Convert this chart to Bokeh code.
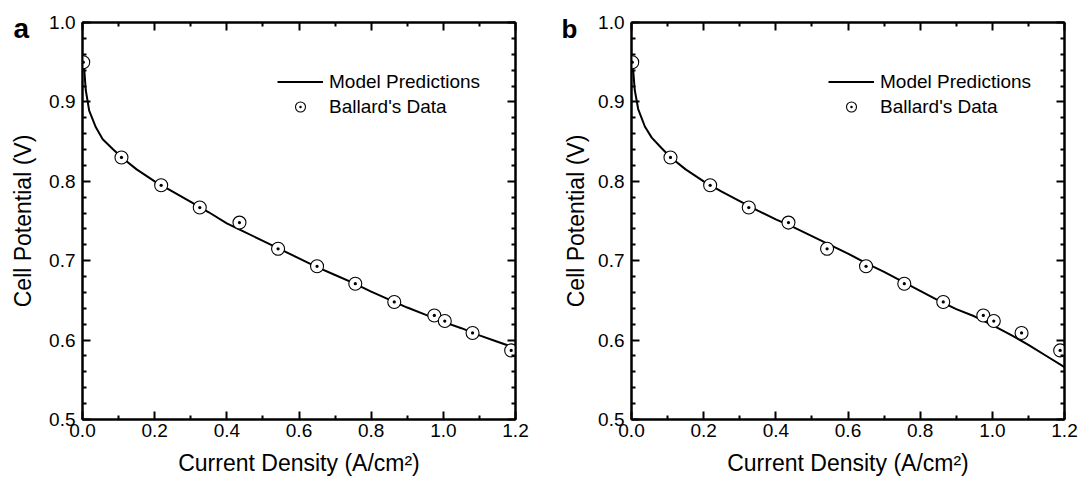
from bokeh.plotting import figure
from bokeh.models import (LinearAxis, FixedTicker, PrintfTickFormatter,
                          Legend, LegendItem, Range1d, Title)
from bokeh.layouts import row
from bokeh.embed import file_html
from bokeh.resources import INLINE

# ---- data ----
current_data = [0.002, 0.108, 0.218, 0.325, 0.435, 0.542, 0.650, 0.756,
                0.864, 0.975, 1.004, 1.081, 1.188]
potential_data = [0.950, 0.830, 0.795, 0.767, 0.748, 0.715, 0.693, 0.671,
                  0.648, 0.631, 0.624, 0.609, 0.587]

model_x = [0.0, 0.005, 0.009, 0.0185, 0.037, 0.056, 0.083, 0.109, 0.15, 0.2,
           0.25, 0.3, 0.35, 0.4, 0.45, 0.5, 0.55, 0.6, 0.65, 0.7, 0.75, 0.8,
           0.85, 0.9, 0.95, 1.0, 1.05, 1.1, 1.15, 1.2]
model_a = [0.948, 0.940, 0.915, 0.889, 0.868, 0.853, 0.841, 0.830, 0.815, 0.800,
           0.787, 0.774, 0.761, 0.747, 0.736, 0.725, 0.714, 0.703, 0.692, 0.682,
           0.672, 0.661, 0.651, 0.641, 0.632, 0.623, 0.615, 0.606, 0.598, 0.590]
model_b = [0.948, 0.938, 0.915, 0.891, 0.869, 0.855, 0.842, 0.830, 0.815, 0.800,
           0.787, 0.775, 0.763, 0.752, 0.742, 0.731, 0.720, 0.709, 0.697, 0.686,
           0.674, 0.662, 0.650, 0.639, 0.630, 0.619, 0.607, 0.594, 0.580, 0.566]

x_ticks = [0.0, 0.2, 0.4, 0.6, 0.8, 1.0, 1.2]
x_minor = [0.1, 0.3, 0.5, 0.7, 0.9, 1.1]
y_ticks = [0.5, 0.6, 0.7, 0.8, 0.9, 1.0]
y_minor = [0.52, 0.54, 0.56, 0.58, 0.62, 0.64, 0.66, 0.68, 0.72, 0.74, 0.76,
           0.78, 0.82, 0.84, 0.86, 0.88, 0.92, 0.94, 0.96, 0.98]

x_title = "Current Density (A/cm²)"
y_title = "Cell Potential (V)"
legend_labels = ["Model Predictions", "Ballard's Data"]
panel_letters = ["a", "b"]

FONT = "Liberation Sans"


def style_axis(ax, ticks, minor, show_labels):
    ax.ticker = FixedTicker(ticks=ticks, minor_ticks=minor)
    ax.formatter = PrintfTickFormatter(format="%.1f")
    ax.axis_line_width = 2
    ax.axis_line_color = "black"
    ax.major_tick_in = 8
    ax.major_tick_out = 0
    ax.minor_tick_in = 4
    ax.minor_tick_out = 0
    ax.major_tick_line_width = 2
    ax.minor_tick_line_width = 2
    ax.major_tick_line_color = "black"
    ax.minor_tick_line_color = "black"
    ax.major_label_text_font = FONT
    ax.axis_label_text_font = FONT
    ax.axis_label_text_font_style = "normal"
    ax.axis_label_text_color = "black"
    if show_labels:
        ax.major_label_text_color = "black"
        ax.major_label_text_font_size = "19px"
        ax.axis_label_text_font_size = "23px"
    else:
        ax.major_label_text_color = None
        ax.major_label_text_font_size = "1px"
        ax.major_label_standoff = 0


def make_panel(letter, model_y, border_left, border_right, letter_offset,
               letter_size, legend_x, ytitle_standoff):
    p = figure(frame_width=433, frame_height=397,
               min_border_left=border_left, min_border_right=border_right,
               min_border_top=22, min_border_bottom=63,
               x_range=Range1d(0, 1.2), y_range=Range1d(0.5, 1.0),
               output_backend="svg", toolbar_location=None,
               x_axis_label=x_title, y_axis_label=y_title)
    p.grid.visible = False
    p.outline_line_color = "black"
    p.outline_line_width = 2
    p.background_fill_color = "white"
    p.border_fill_color = "white"

    style_axis(p.xaxis[0], x_ticks, x_minor, True)
    style_axis(p.yaxis[0], y_ticks, y_minor, True)
    p.xaxis[0].major_label_standoff = 4
    p.xaxis[0].axis_label_standoff = 10
    p.yaxis[0].major_label_standoff = 7
    p.yaxis[0].axis_label_standoff = ytitle_standoff

    top = LinearAxis()
    style_axis(top, x_ticks, x_minor, False)
    p.add_layout(top, "above")
    right = LinearAxis()
    style_axis(right, y_ticks, y_minor, False)
    p.add_layout(right, "right")

    ln = p.line(model_x, model_y, line_width=2, line_color="black")
    sc = p.scatter(current_data, potential_data, marker="circle_dot", size=13,
                   fill_color="white", line_color="black", line_width=1.1)

    legend = Legend(items=[LegendItem(label=legend_labels[0], renderers=[ln]),
                           LegendItem(label=legend_labels[1], renderers=[sc])],
                    location=(legend_x, 300), padding=0, margin=0, spacing=0,
                    glyph_width=46, glyph_height=25, label_height=25,
                    label_standoff=6, border_line_color=None,
                    background_fill_alpha=0,
                    label_text_font=FONT, label_text_font_size="19px",
                    label_text_color="black")
    p.add_layout(legend, "center")

    p.add_layout(Title(text=letter, align="left", offset=letter_offset,
                       standoff=-43, vertical_align="bottom", text_font=FONT,
                       text_font_size=letter_size, text_font_style="bold",
                       text_color="black"), "above")
    return p


pa = make_panel(panel_letters[0], model_a, 82, 45, -69, "28px", 195, 10)
pb = make_panel(panel_letters[1], model_b, 69, 17, -70, "26px", 197, 6)

layout = row(pa, pb, spacing=0)

with open("out.html", "w") as f:
    f.write(file_html(layout, INLINE))
